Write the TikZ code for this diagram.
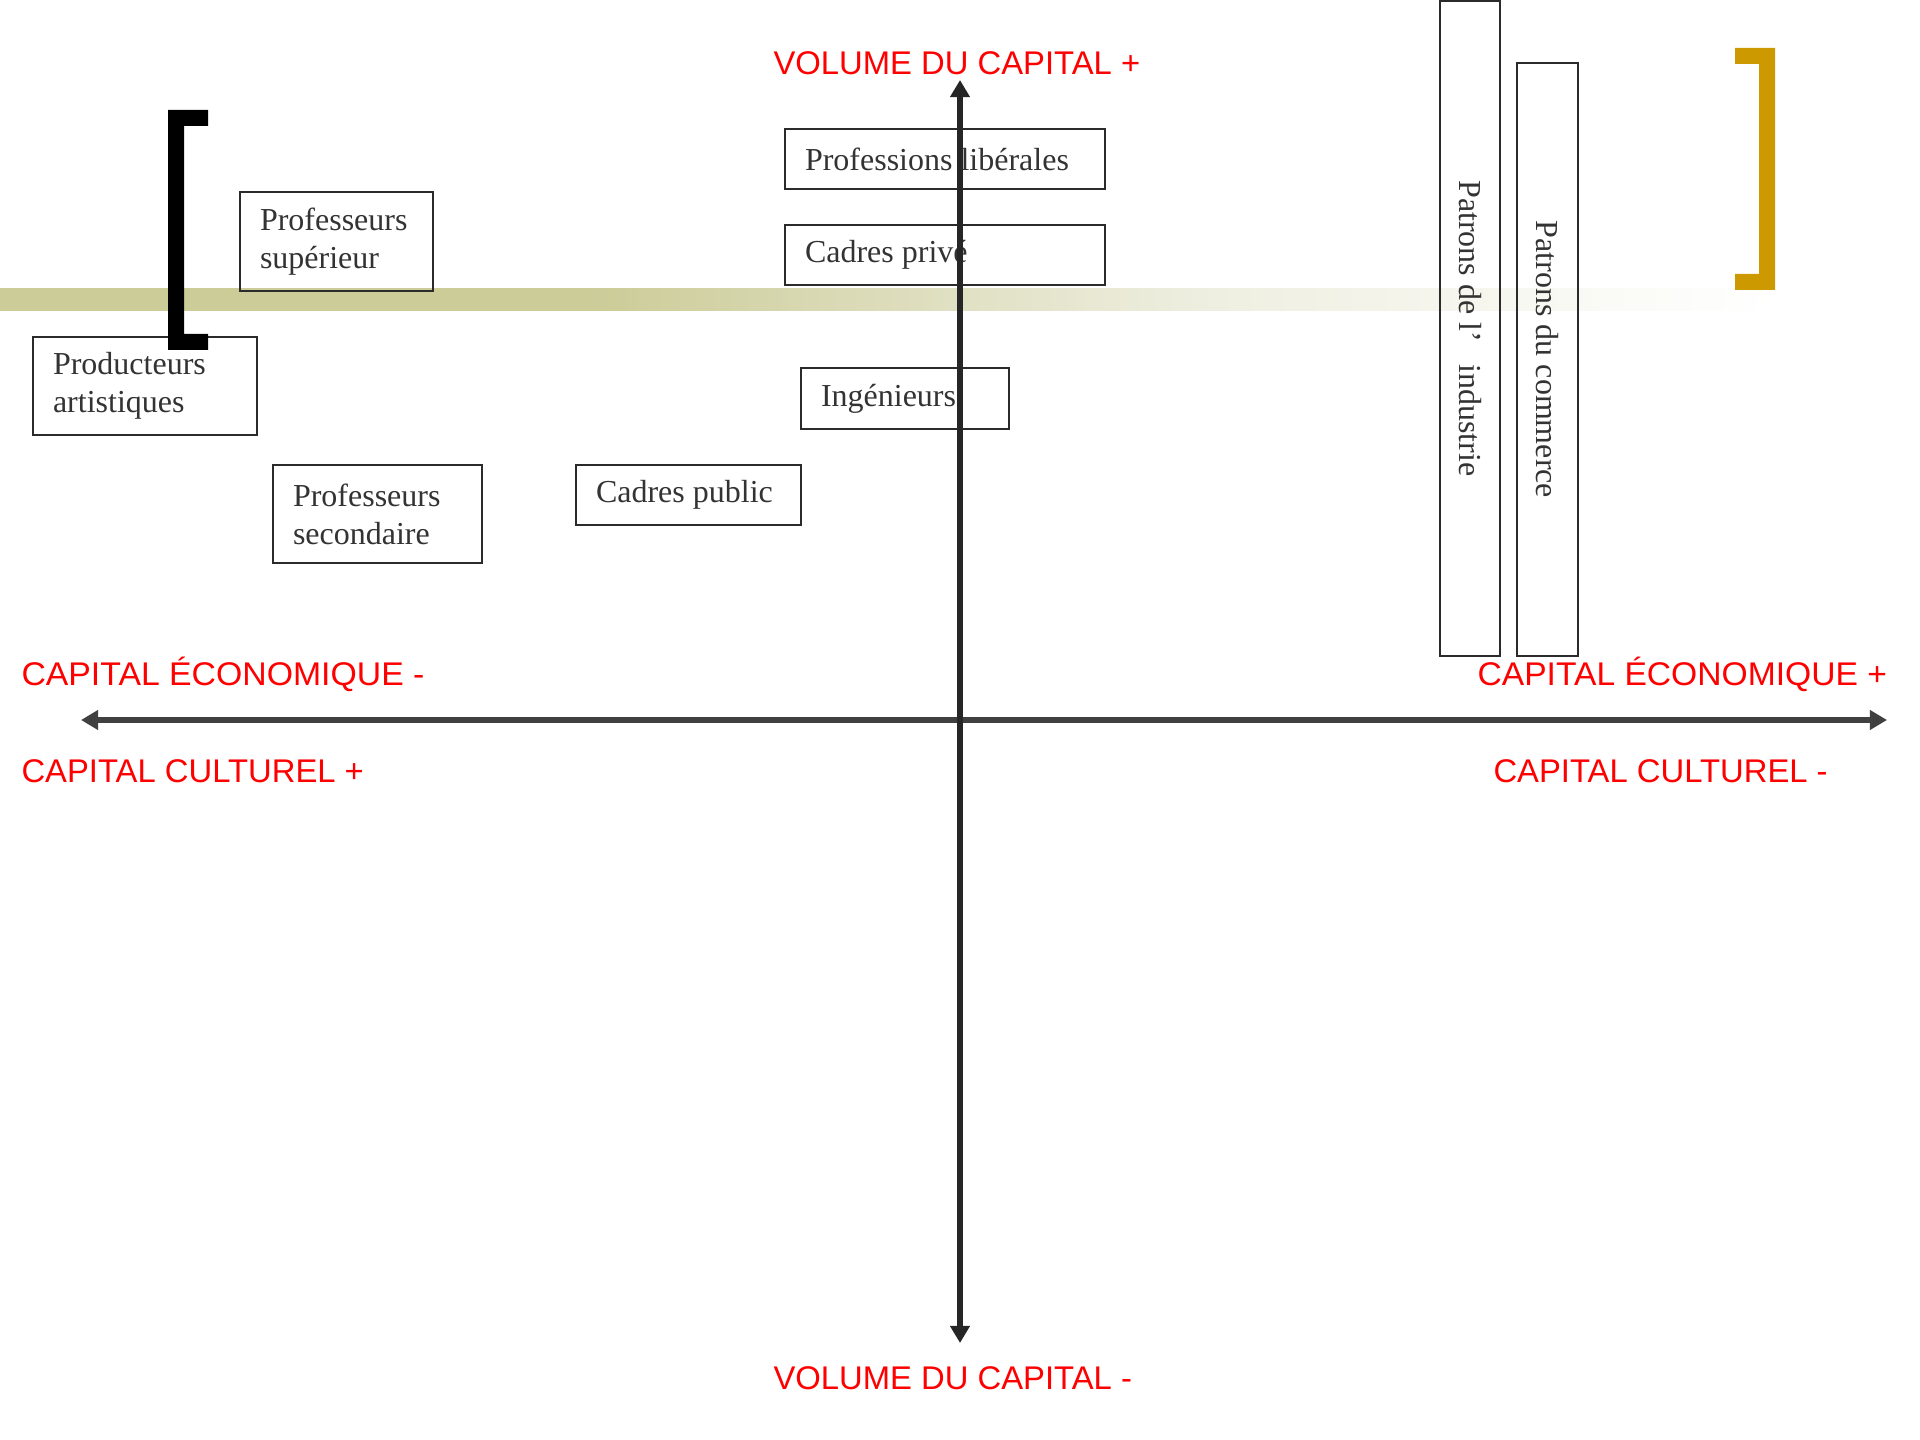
\documentclass[tikz,border=0pt]{standalone}
\usepackage{fontspec}
\usepackage{graphicx}
\setmainfont{Liberation Serif}
\newfontfamily\lblfont{Liberation Sans}
\usetikzlibrary{arrows.meta}
\definecolor{olivebar}{HTML}{CCCC99}
\definecolor{palebar}{HTML}{EEEEE0}
\definecolor{goldbar}{HTML}{CC9900}
\definecolor{boxline}{HTML}{2B2B2B}
\definecolor{txtgray}{HTML}{333333}
\definecolor{axisv}{HTML}{262626}
\definecolor{axish}{HTML}{404040}
\pgfdeclarehorizontalshading{bandfade}{100bp}{color(0bp)=(olivebar); color(25bp)=(olivebar); color(41.9bp)=(olivebar); color(58.8bp)=(palebar); color(75bp)=(white); color(100bp)=(white)}
\tikzset{
  catbox/.style={draw=boxline, line width=0.75pt, anchor=north west, inner xsep=7.5pt, inner ysep=0pt, align=flush left, text=txtgray, font=\fontsize{12}{14.25}\selectfont},
  vcatbox/.style={draw=boxline, line width=0.75pt, rotate=-90, inner sep=0pt, text=txtgray, font=\fontsize{12}{14.25}\selectfont},
  redlbl/.style={anchor=base west, inner sep=0pt, text=red, font=\lblfont\fontsize{12.3}{14}\selectfont},
  axisline/.style={line width=2.25pt, {Triangle[length=6.4pt,width=7.1pt]}-{Triangle[length=6.4pt,width=7.1pt]}},
}
\begin{document}
\begin{tikzpicture}[x=0.375pt,y=-0.375pt]
\useasboundingbox (0,0) rectangle (1920,1440);

% olive band with fade
\shade[shading=bandfade] (0,289) rectangle (1774,311);

% boxes
\node[catbox, text width=57.375pt, minimum width=72.375pt, minimum height=37.125pt] (profsup) at (239,191) {Professeurs\\supérieur};
\node[catbox, text width=69pt, minimum width=84pt, minimum height=36.75pt] (prodart) at (32,336) {Producteurs\\artistiques};
\node[catbox, text width=63.375pt, minimum width=78.375pt, minimum height=36.75pt] (profsec) at (272,464) {Professeurs\\secondaire};
\node[catbox, text width=69.375pt, minimum width=84.375pt, minimum height=22.5pt] (cadpub) at (575,464) {Cadres public};
\node[catbox, text width=105pt, minimum width=120pt, minimum height=22.5pt] (proflib) at (784,128) {Professions libérales};
\node[catbox, text width=105pt, minimum width=120pt, minimum height=22.5pt] (cadpriv) at (784,224) {Cadres privé};
\node[catbox, text width=63pt, minimum width=78pt, minimum height=22.875pt] (ingen) at (800,367) {Ingénieurs};
\node[vcatbox, minimum width=245.6pt, minimum height=22.5pt] (patind) at (1470,328.5) {Patrons de l’\hspace{0.7em}industrie};
\node[vcatbox, minimum width=222.4pt, minimum height=22.9pt] (patcom) at (1547.5,359.5) {Patrons du commerce};

% brackets
\fill[black] (168,110) -- (208,110) -- (208,126) -- (184,126) -- (184,334) -- (208,334) -- (208,350) -- (168,350) -- cycle;
\fill[goldbar] (1775,48) -- (1735,48) -- (1735,64) -- (1759,64) -- (1759,274) -- (1735,274) -- (1735,290) -- (1775,290) -- cycle;

% axes
\coordinate (vtop) at (960,80);
\coordinate (vbot) at (960,1343);
\coordinate (hleft) at (81,720);
\coordinate (hright) at (1887,720);
\draw[axisline, draw=axish, fill=axish] (hleft) -- (hright);
\draw[axisline, draw=axisv, fill=axisv] (vbot) -- (vtop);

% labels
\node[redlbl] (voltop) at (773,75) {VOLUME DU CAPITAL +};
\node[redlbl] (ecomin) at (21,685) {\scalebox{1.03}[1]{CAPITAL ÉCONOMIQUE -}};
\node[redlbl] (ecoplus) at (1477,685) {\scalebox{1.025}[1]{CAPITAL ÉCONOMIQUE +}};
\node[redlbl] (culplus) at (21,782) {CAPITAL CULTUREL +};
\node[redlbl] (culmin) at (1493,782) {CAPITAL CULTUREL -};
\node[redlbl] (volbot) at (773,1389) {VOLUME DU CAPITAL -};
\end{tikzpicture}
\end{document}
